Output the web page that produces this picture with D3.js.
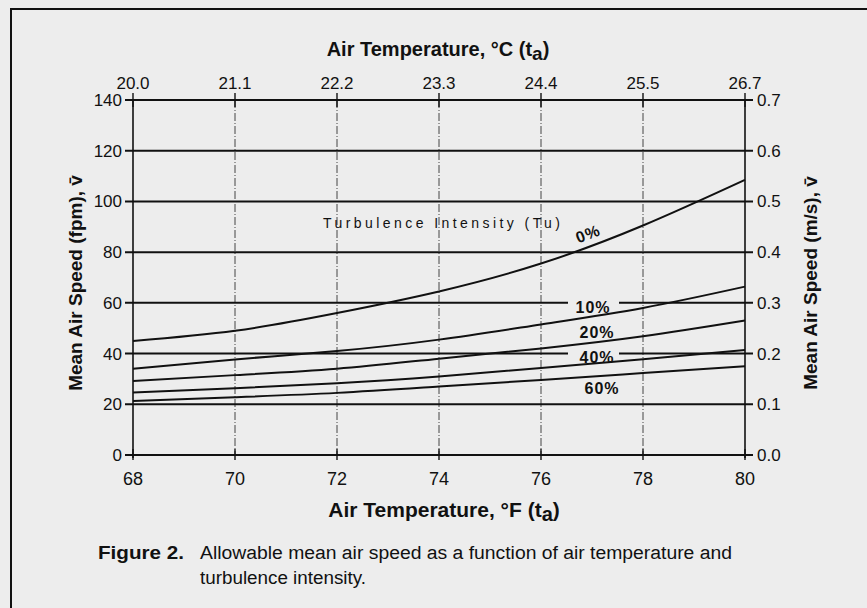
<!DOCTYPE html>
<html>
<head>
<meta charset="utf-8">
<script src="https://cdn.jsdelivr.net/npm/d3@7"></script>
<style>
  html, body { margin: 0; padding: 0; background: #ededed; }
  svg { display: block; }
  text { fill: #111; }
</style>
</head>
<body>
<script>
;(() => {
    var width = 867, height = 608;

    // data
    var tempF = [68, 70, 72, 74, 76, 78, 80]; // bottom axis, deg F
    var tempC = ['20.0', '21.1', '22.2', '23.3', '24.4', '25.5', '26.7']; // top axis, deg C
    var fpmTicks = [0, 20, 40, 60, 80, 100, 120, 140]; // left axis
    var msTicks = ['0.0', '0.1', '0.2', '0.3', '0.4', '0.5', '0.6', '0.7']; // right axis

    var tu0 = [45, 49, 56, 64.5, 75.5, 90.5, 108.5],
        tu10 = [34, 37.7, 41, 45.5, 51.5, 58, 66.4],
        tu20 = [29.2, 31.5, 34, 38, 42, 46.8, 53],
        tu40 = [24.6, 26.3, 28.3, 31, 34.3, 37.8, 41.4],
        tu60 = [21.3, 22.8, 24.5, 27, 29.6, 32.3, 35];

    var series = [
        { name: '0%', values: tu0 },
        { name: '10%', values: tu10 },
        { name: '20%', values: tu20 },
        { name: '40%', values: tu40 },
        { name: '60%', values: tu60 }
    ];

    var left = 133, right = 745, top = 100, bottom = 455;

    var x = d3.scaleLinear().domain([68, 80]).range([left, right]),
        y = d3.scaleLinear().domain([0, 140]).range([bottom, top]),
        yMs = d3.scaleLinear().domain([0, 0.7]).range([bottom, top]),
        xC = d3.scalePoint().domain(tempC).range([left, right]);

    var font = '"Liberation Sans", Arial, Helvetica, sans-serif';

    var svg = d3.select('body')
        .append('svg')
        .attr('width', width)
        .attr('height', height)
        .style('font-family', font);

    // paper
    svg.append('rect')
        .attr('width', width)
        .attr('height', height)
        .attr('fill', '#ededed');

    // frame (top and left edges of the page box)
    svg.append('path')
        .attr('d', 'M11,' + height + 'V9H' + width)
        .attr('fill', 'none')
        .attr('stroke', '#111')
        .attr('stroke-width', 2);

    // vertical dashed grid
    svg.selectAll('line.vgrid')
        .data(tempF.slice(1, -1))
        .enter()
        .append('line')
        .classed('vgrid', true)
        .attr('x1', d => x(d))
        .attr('x2', d => x(d))
        .attr('y1', top)
        .attr('y2', bottom)
        .attr('stroke', '#444')
        .attr('stroke-width', 1)
        .attr('stroke-dasharray', '8,2,1,2');

    // horizontal solid grid (with tick stubs out both sides)
    svg.selectAll('line.hgrid')
        .data(fpmTicks)
        .enter()
        .append('line')
        .classed('hgrid', true)
        .attr('x1', left - 8)
        .attr('x2', right + 8)
        .attr('y1', d => y(d))
        .attr('y2', d => y(d))
        .attr('stroke', '#111')
        .attr('stroke-width', 2);

    // side axes
    [left, right].forEach(px => {
        svg.append('line')
            .attr('x1', px).attr('x2', px)
            .attr('y1', top).attr('y2', bottom + 3)
            .attr('stroke', '#111')
            .attr('stroke-width', 1.6);
    });

    // top and bottom tick stubs
    svg.selectAll('line.ttick')
        .data(tempF)
        .enter()
        .append('line')
        .attr('x1', d => x(d)).attr('x2', d => x(d))
        .attr('y1', top - 7).attr('y2', top + 7)
        .attr('stroke', '#111').attr('stroke-width', 1.4);
    svg.selectAll('line.btick')
        .data(tempF)
        .enter()
        .append('line')
        .attr('x1', d => x(d)).attr('x2', d => x(d))
        .attr('y1', bottom - 6).attr('y2', bottom + 5)
        .attr('stroke', '#111').attr('stroke-width', 1.4);

    // tick labels
    svg.selectAll('text.fpm')
        .data(fpmTicks)
        .enter()
        .append('text')
        .attr('x', left - 11)
        .attr('y', d => y(d) + 6)
        .attr('text-anchor', 'end')
        .style('font-size', '17px')
        .text(d => d);

    svg.selectAll('text.ms')
        .data(msTicks)
        .enter()
        .append('text')
        .attr('x', right + 12)
        .attr('y', d => yMs(+d) + 6)
        .style('font-size', '17px')
        .text(d => d);

    svg.selectAll('text.f')
        .data(tempF)
        .enter()
        .append('text')
        .attr('x', d => x(d))
        .attr('y', bottom + 30)
        .attr('text-anchor', 'middle')
        .style('font-size', '18px')
        .text(d => d);

    svg.selectAll('text.c')
        .data(tempC)
        .enter()
        .append('text')
        .attr('x', d => xC(d))
        .attr('y', top - 11)
        .attr('text-anchor', 'middle')
        .style('font-size', '17px')
        .text(d => d);

    // axis titles
    function title(t, unit, px, py, rot, size) {
        var el = svg.append('text')
            .attr('transform', 'translate(' + px + ',' + py + ')' + (rot ? ' rotate(' + rot + ')' : ''))
            .attr('text-anchor', 'middle')
            .style('font-size', size + 'px')
            .style('font-weight', 'bold');
        el.append('tspan').text(t);
        if (unit) {
            el.append('tspan').attr('dy', 4).style('font-size', (size - 1) + 'px').text(unit);
            el.append('tspan').attr('dy', -4).text(')');
        }
        return el;
    }
    title('Air Temperature, °C (t', 'a', 438, 56, 0, 20);
    title('Air Temperature, °F (t', 'a', 444, 517, 0, 21);
    title('Mean Air Speed (fpm), v\u0304', null, 82, 283, -90, 19);
    title('Mean Air Speed (m/s), v\u0304', null, 817, 283, -90, 19);

    // label gaps in the 60 and 40 grid lines
    [60, 40].forEach(v => {
        svg.append('rect')
            .attr('x', 568).attr('y', y(v) - 3)
            .attr('width', 51).attr('height', 6)
            .attr('fill', '#ededed');
    });

    // curves
    var line = d3.line()
        .x((d, i) => x(tempF[i]))
        .y(d => y(d))
        .curve(d3.curveNatural);

    svg.selectAll('path.tu')
        .data(series)
        .enter()
        .append('path')
        .attr('d', d => line(d.values))
        .attr('fill', 'none')
        .attr('stroke', '#111')
        .attr('stroke-width', 2);

    // in-plot labels
    svg.append('text')
        .attr('x', 323).attr('y', 228)
        .style('font-size', '14px')
        .attr('textLength', 237)
        .attr('lengthAdjust', 'spacing')
        .text('Turbulence Intensity (Tu)');

    var tuLabels = [
        { text: '0%', lx: 590, ly: 239, rot: -21 },
        { text: '10%', lx: 593, ly: 313, rot: 0 },
        { text: '20%', lx: 597, ly: 338, rot: 0 },
        { text: '40%', lx: 597, ly: 363, rot: 0 },
        { text: '60%', lx: 602, ly: 394, rot: 0 }
    ];
    svg.selectAll('text.tul')
        .data(tuLabels)
        .enter()
        .append('text')
        .attr('transform', d => 'translate(' + d.lx + ',' + d.ly + ') rotate(' + d.rot + ')')
        .attr('text-anchor', 'middle')
        .style('font-size', '16px')
        .style('font-weight', 'bold')
        .style('letter-spacing', '1px')
        .text(d => d.text);

    // caption
    var cap = svg.append('g').style('font-size', '18px');
    cap.append('text')
        .attr('x', 98).attr('y', 559)
        .style('font-weight', 'bold')
        .attr('textLength', 86)
        .attr('lengthAdjust', 'spacingAndGlyphs')
        .text('Figure 2.');
    cap.append('text')
        .attr('x', 200).attr('y', 559)
        .attr('textLength', 532)
        .attr('lengthAdjust', 'spacingAndGlyphs')
        .text('Allowable mean air speed as a function of air temperature and');
    cap.append('text')
        .attr('x', 200).attr('y', 584)
        .attr('textLength', 166)
        .attr('lengthAdjust', 'spacingAndGlyphs')
        .text('turbulence intensity.');
})();
</script>
</body>
</html>
